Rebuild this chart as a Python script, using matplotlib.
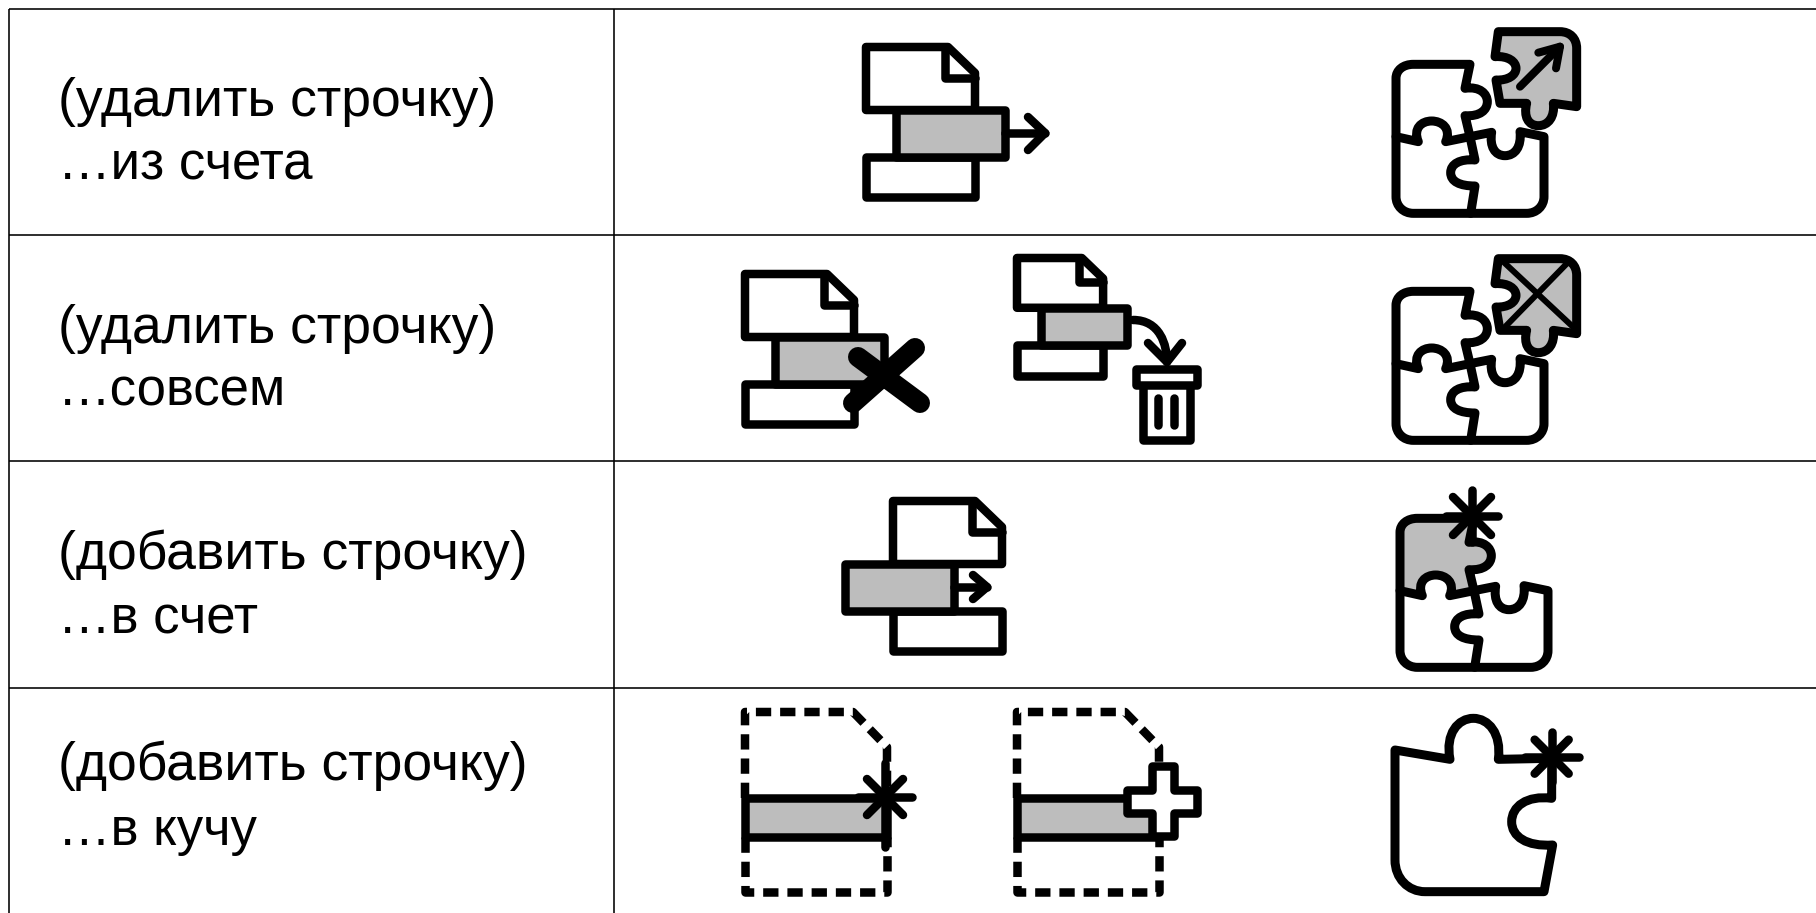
import matplotlib
matplotlib.use("Agg")
import matplotlib.pyplot as plt
from matplotlib.path import Path
from matplotlib.patches import PathPatch

plt.rcParams["font.family"] = ["Liberation Sans", "DejaVu Sans"]

# table content
row_titles = ["(удалить строчку)", "(удалить строчку)", "(добавить строчку)", "(добавить строчку)"]
row_subs = ["…из счета", "…совсем", "…в счет", "…в кучу"]
row_lines = [9, 235, 461, 688]
col_lines = [9, 614]
text_base = [116, 343, 569, 780]
sub_base = [179, 406, 633, 845]

GREY = "#bdbdbd"
W, H = 1816, 913
PX = 72 / 100  # pixels to points

# puzzle outlines at 3x
piece_tl = "M 138 410 L 138 235 C 138 210 160 193 190 193 L 360 193 L 345 265 C 390 258 412 282 412 305 C 412 330 390 350 345 347 L 360 410 L 287 425 C 305 385 275 363 245 363 C 215 363 188 385 205 425 Z"
piece_bl = "M 138 410 L 138 590 C 138 618 160 640 190 640 L 362 640 L 375 558 C 330 558 302 545 302 518 C 302 492 330 476 375 480 L 360 410"
piece_br = "M 362 640 L 530 640 C 560 640 582 618 582 590 L 582 410 L 510 395 C 515 440 495 467 465 467 C 435 467 418 440 425 397 L 360 410"
piece_tr = "M 445 95 L 630 95 C 660 95 680 115 680 145 L 680 320 L 610 310 C 615 350 595 377 565 377 C 535 377 520 350 530 310 L 450 310 L 438 240 C 475 242 498 225 498 205 C 498 185 475 167 435 170 Z"
piece_single = "M 75 180 L 240 208 C 225 130 265 85 310 85 C 355 85 395 130 385 208 L 545 205 L 545 325 C 470 315 425 350 425 395 C 425 440 470 470 548 465 L 522 605 L 165 605 C 115 605 75 565 75 510 Z"


def svg_path(d, ox, oy, k=1 / 3):
    toks = d.split()
    verts, codes = [], []
    i = 0
    while i < len(toks):
        c = toks[i]
        if c == "Z":
            verts.append(verts[-1])
            codes.append(Path.CLOSEPOLY)
            i += 1
            continue
        n = 3 if c == "C" else 1
        for j in range(n):
            verts.append((ox + float(toks[i + 1 + 2 * j]) * k, oy + float(toks[i + 2 + 2 * j]) * k))
        codes += {"M": [Path.MOVETO], "L": [Path.LINETO], "C": [Path.CURVE4] * 3}[c]
        i += 1 + 2 * n
    return Path(verts, codes)


fig = plt.figure(figsize=(W / 100, H / 100), dpi=100)
ax = fig.add_axes([0, 0, 1, 1])
ax.set_xlim(0, W)
ax.set_ylim(H, 0)
ax.axis("off")


def stroke(path, lw=8.5, fc="none", ls="-", cap="round"):
    ax.add_patch(PathPatch(path, fc=fc, ec="black", lw=lw * PX, ls=ls, capstyle=cap, joinstyle="round"))


def poly(pts, lw=8.5, fc="none", ls="-", cap="round", close=False):
    codes = [Path.MOVETO] + [Path.LINETO] * (len(pts) - 1)
    if close:
        pts = list(pts) + [pts[0]]
        codes.append(Path.CLOSEPOLY)
    stroke(Path(pts, codes), lw, fc, ls, cap)


def doc_strip(x, y, strip_dx, s=1.0):
    w, h1, h2, h3 = 109 * s, 63 * s, 110 * s, 150 * s
    poly([(x, y), (x + w - 27 * s, y), (x + w, y + 26 * s), (x + w, y + h1), (x, y + h1)], close=True)
    poly([(x + w - 30 * s, y), (x + w - 30 * s, y + 31 * s), (x + w, y + 31 * s)])
    poly([(x, y + h2), (x + w, y + h2), (x + w, y + h3), (x, y + h3)], close=True)
    poly([(x + strip_dx, y + h1), (x + strip_dx + w, y + h1), (x + strip_dx + w, y + h2), (x + strip_dx, y + h2)],
         fc=GREY, close=True)


def asterisk(cx, cy, up, down, half, diag):
    poly([(cx, cy - up), (cx, cy + down)])
    poly([(cx - half, cy), (cx + half, cy)])
    poly([(cx - diag, cy - diag), (cx + diag, cy + diag)])
    poly([(cx + diag, cy - diag), (cx - diag, cy + diag)])


def dashed_doc(x):
    w = 142
    dash = (0, (1.8, 1.05))
    poly([(x, 798), (x, 712), (x + 108, 712), (x + w, 747), (x + w, 798)], ls=dash, cap="butt")
    poly([(x, 837), (x, 892), (x + w, 892), (x + w, 837)], ls=dash, cap="butt")
    poly([(x, 798), (x + w, 798), (x + w, 837), (x, 837)], fc=GREY, close=True)


def puzzle(dx, dy, grey_tl=False, top_right=True):
    ox, oy = 1350 + dx, dy
    for piece in [piece_bl, piece_br]:
        stroke(svg_path(piece, ox, oy), lw=9)
    stroke(svg_path(piece_tl, ox, oy), lw=9, fc=GREY if grey_tl else "none")
    if top_right:
        stroke(svg_path(piece_tr, ox, oy), lw=9, fc=GREY)


# grid
for y in row_lines:
    ax.plot([col_lines[0], W], [y, y], color="black", lw=1.6 * PX, solid_capstyle="butt")
for x in col_lines:
    ax.plot([x, x], [row_lines[0], H], color="black", lw=1.6 * PX, solid_capstyle="butt")

# labels
for title, sub, y, y2 in zip(row_titles, row_subs, text_base, sub_base):
    ax.text(58, y, title, fontsize=38.5, va="baseline", ha="left", color="black")
    ax.text(58, y2, sub, fontsize=38, va="baseline", ha="left", color="black")

# row 1
doc_strip(866, 47, 30)
poly([(1005, 133), (1045, 133)])
poly([(1028, 117), (1045, 133), (1028, 150)])
puzzle(0, 0)
poly([(1350 + 510 / 3, 260 / 3), (1350 + 630 / 3, 140 / 3)], lw=8)
poly([(1350 + 565 / 3, 158 / 3), (1350 + 630 / 3, 140 / 3), (1350 + 618 / 3, 205 / 3)], lw=8)

# row 2
doc_strip(745, 274, 30)
poly([(858, 357), (920, 403)], lw=20)
poly([(915, 348), (853, 403)], lw=20)
doc_strip(1017, 258, 24, s=0.79)
stroke(Path([(1133, 320), (1160, 320), (1167, 345), (1167, 362)],
            [Path.MOVETO, Path.CURVE4, Path.CURVE4, Path.CURVE4]))
poly([(1148, 343), (1167, 362), (1182, 343)])
poly([(1143, 385), (1143, 440), (1190, 440), (1190, 385)])
poly([(1136, 369), (1197, 369), (1197, 385), (1136, 385)], fc="white", close=True)
poly([(1158, 398), (1158, 425)])
poly([(1174, 398), (1174, 425)])
puzzle(0, 227)
poly([(1350 + 450 / 3, 227 + 95 / 3), (1350 + 680 / 3, 227 + 310 / 3)], lw=6)
poly([(1350 + 660 / 3, 227 + 100 / 3), (1350 + 460 / 3, 227 + 305 / 3)], lw=6)

# row 3
doc_strip(893, 501, -48)
poly([(954, 587), (987, 587)])
poly([(973, 575), (987, 587), (973, 599)])
puzzle(4, 454, grey_tl=True, top_right=False)
asterisk(1472, 516, 26, 26, 26, 19)

# row 4
dashed_doc(745)
asterisk(885, 797, 34, 50, 27, 18)
dashed_doc(1017)
poly([(1151.5, 766.5), (1173.5, 766.5), (1173.5, 790.5), (1196.5, 790.5), (1196.5, 813.5), (1173.5, 813.5),
      (1173.5, 836.5), (1151.5, 836.5), (1151.5, 813.5), (1126.5, 813.5), (1126.5, 790.5), (1151.5, 790.5)],
     fc="white", close=True)
stroke(svg_path(piece_single, 1370, 690), lw=9)
asterisk(1370 + 545 / 3, 690 + 200 / 3, 25, 25, 27, 17)

fig.savefig("out.png", dpi=100)
